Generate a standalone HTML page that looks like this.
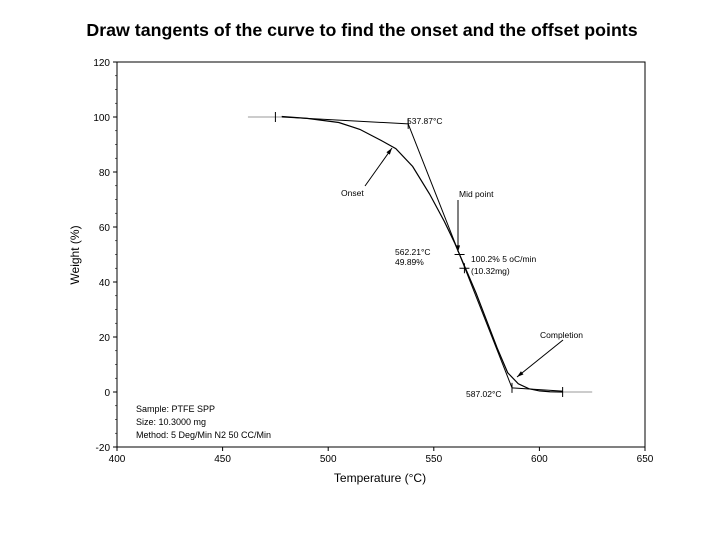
<!DOCTYPE html>
<html><head><meta charset="utf-8"><style>
body{margin:0;background:#fff;width:720px;height:540px;overflow:hidden;font-family:"Liberation Sans",sans-serif}
svg text{font-family:"Liberation Sans",sans-serif}
</style></head><body>
<svg width="720" height="540">
<text x="362" y="36" text-anchor="middle" font-size="17.8" font-weight="bold">Draw tangents of the curve to find the onset and the offset points</text>
<g id="plot"></g>
</svg>
<script>
const xTicks=[400,450,500,550,600,650];
const yTicks=[-20,0,20,40,60,80,100,120];
const curveT=[478,490,505,515,525,532,540,548,555,560,562.2,565,570,575,580,585,590,595,600,605,611];
const curveW=[100.2,99.5,98,95.5,91.5,88.5,82,72,62,54,50,45,36,26,16,7,3,1.2,0.4,0.1,0];
const leadT=[462,478]; const leadW=[100,100];
const tailT=[611,625]; const tailW=[0,0];
const tan1T=[478,537.87]; const tan1W=[100,97.5];
const tan2T=[537.87,587.02]; const tan2W=[97.5,1.5];
const tan3T=[587.02,611]; const tan3W=[1.5,0.3];
const X0=117,X1=645,Y0=447,Y1=62;
const sx=t=>X0+(t-400)/250*(X1-X0);
const sy=w=>Y0-(w+20)/140*(Y0-Y1);
const g=document.getElementById('plot');
const NS='http://www.w3.org/2000/svg';
function mk(tag,attrs,parent){const e=document.createElementNS(NS,tag);for(const k in attrs)e.setAttribute(k,attrs[k]);(parent||g).appendChild(e);return e;}
function txt(x,y,s,size,anchor){const e=mk('text',{x:x,y:y,'font-size':size||9,'text-anchor':anchor||'start'});e.textContent=s;return e;}
let fr=mk('rect',{x:X0,y:Y1,width:X1-X0,height:Y0-Y1,fill:'none',stroke:'#000','stroke-width':1});


xTicks.forEach(v=>{mk('line',{x1:sx(v),x2:sx(v),y1:Y0,y2:Y0+4,stroke:'#000'});
 const t=txt(sx(v),Y0+15,v,10,'middle');
 
 });
yTicks.forEach(v=>{mk('line',{x1:X0-4,x2:X0,y1:sy(v),y2:sy(v),stroke:'#000'});
 const t=txt(X0-7,sy(v)+4,v,10,'end');
 
 });
for(let v=-20;v<=120;v+=5){mk('line',{x1:X0-2,x2:X0,y1:sy(v),y2:sy(v),stroke:'#000','stroke-width':0.6});}
let xt=txt(380,482,'Temperature (°C)',12,'middle');


let yt=txt(0,0,'Weight (%)',12,'middle');yt.setAttribute('transform','translate(79,255) rotate(-90)');


function line(T,W,name,col,wd){const p=mk('polyline',{points:T.map((t,i)=>sx(t)+','+sy(W[i])).join(' '),fill:'none',stroke:col,'stroke-width':wd});
 
 }
line(leadT,leadW,'curve-lead','#999',1);
line(tailT,tailW,'curve-tail','#999',1);
line(curveT,curveW,'weight-curve','#000',1.2);
line(tan1T,tan1W,'baseline-tangent','#000',1);
line(tan2T,tan2W,'slope-tangent','#000',1);
line(tan3T,tan3W,'end-tangent','#000',1);
[[475,100,'v'],[537.87,97.5,'v'],[562.2,50,'h'],[564.5,45,'c'],[587.02,1.5,'v'],[611,0,'v']].forEach(m=>{
 const x=sx(m[0]),y=sy(m[1]);
 if(m[2]!='h')mk('line',{x1:x,x2:x,y1:y-5,y2:y+5,stroke:'#000'});
 if(m[2]!='v')mk('line',{x1:x-5,x2:x+5,y1:y,y2:y,stroke:'#000'});});
function arrow(x1,y1,x2,y2){mk('line',{x1:x1,y1:y1,x2:x2,y2:y2,stroke:'#000'});
 const a=Math.atan2(y2-y1,x2-x1);
 mk('polygon',{points:`${x2},${y2} ${x2-7*Math.cos(a-0.3)},${y2-7*Math.sin(a-0.3)} ${x2-7*Math.cos(a+0.3)},${y2-7*Math.sin(a+0.3)}`,fill:'#000'});}
arrow(365,186,392,148);
arrow(458,200,458,252);
arrow(563,340,517,377);
txt(341,196,'Onset',8.5);
txt(459,197,'Mid point',8.5);
txt(540,338,'Completion',8.5);
txt(407,124,'537.87°C',8.5);
txt(395,255,'562.21°C',8.5);
txt(395,265,'49.89%',8.5);
txt(471,262,'100.2% 5 oC/min',8.5);
txt(471,274,'(10.32mg)',8.5);
txt(466,397,'587.02°C',8.5);
txt(136,412,'Sample: PTFE SPP',9);
txt(136,425,'Size:    10.3000 mg',9);
txt(136,438,'Method: 5 Deg/Min N2 50 CC/Min',9);
</script>
</body></html>
